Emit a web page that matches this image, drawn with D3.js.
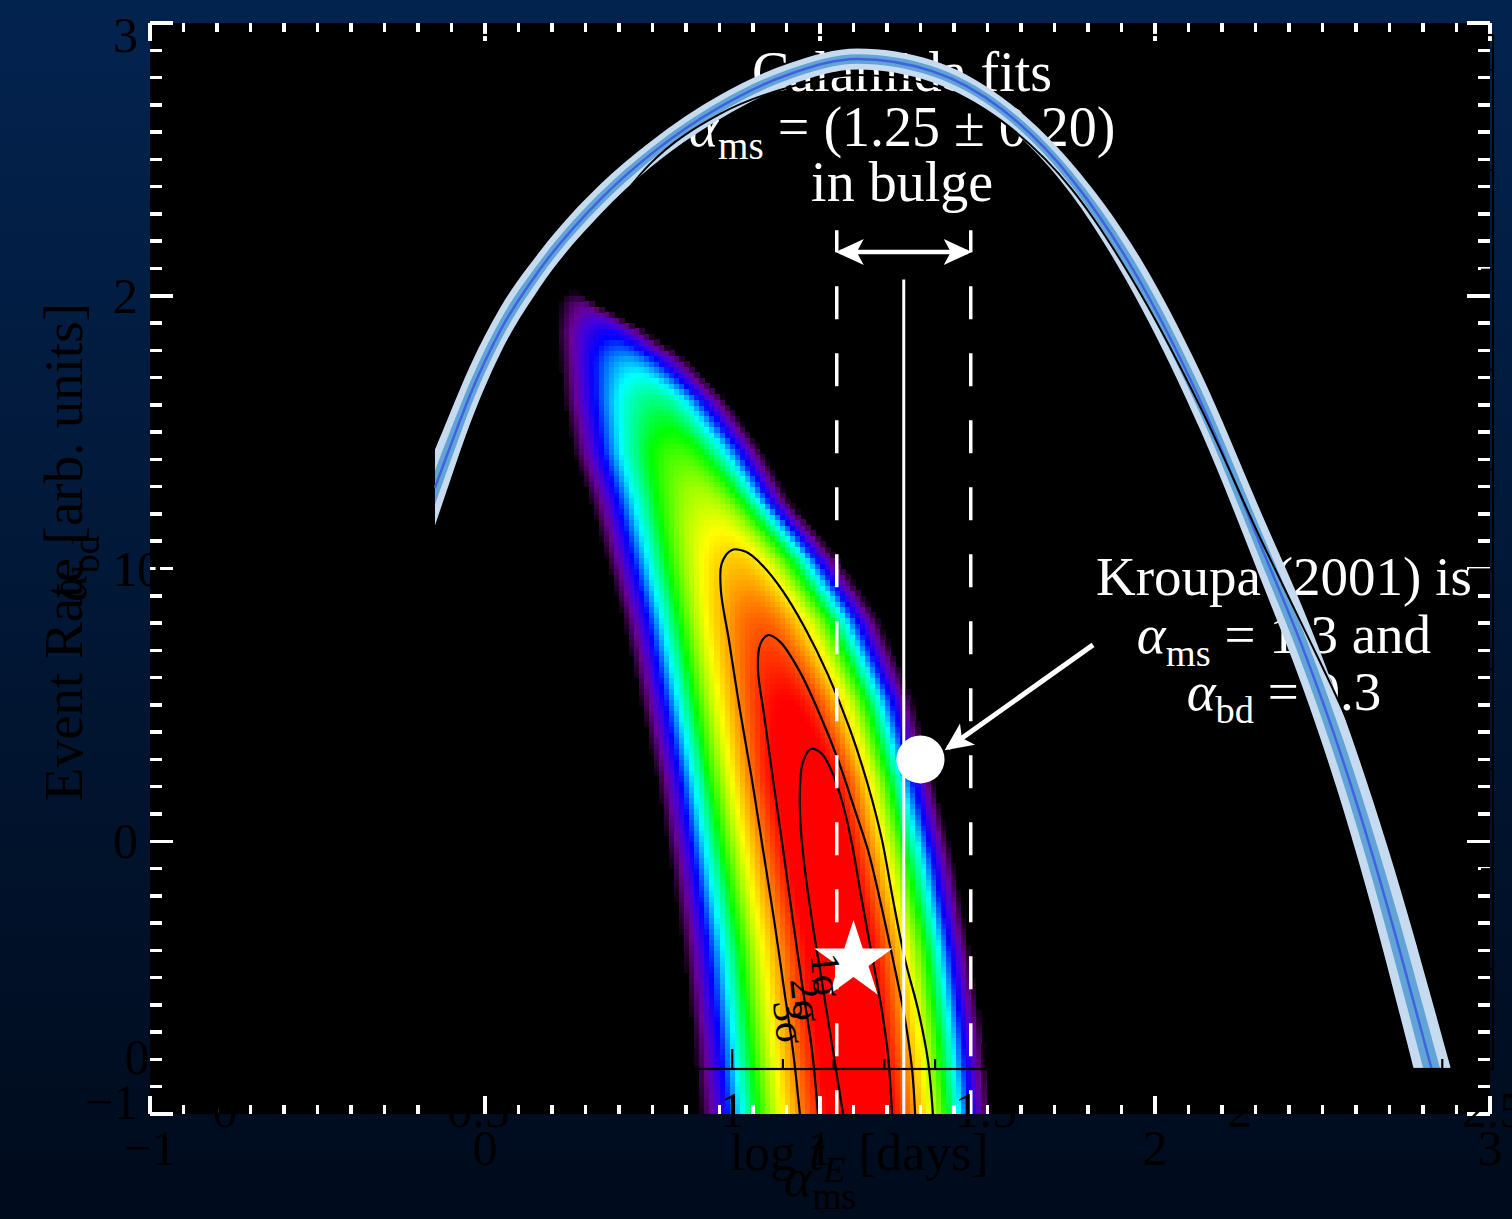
<!DOCTYPE html>
<html>
<head>
<meta charset="utf-8">
<script src="https://cdn.jsdelivr.net/npm/d3@7"></script>
<style>
  html, body { margin: 0; padding: 0; background: #011a3e; }
  svg { display: block; }
  text { font-family: "Liberation Serif", "DejaVu Serif", serif; }
</style>
</head>
<body>
<svg id="chart" width="1512" height="1219"></svg>
<script>
// ---------- data ----------
// outer panel: alpha_ms (x) vs alpha_bd (y)
const msTicks = [-1, 0, 1, 2, 3];
const bdTicks = [-1, 0, 1, 2, 3];

// likelihood map, read row by row: left edge, peak and right edge in alpha_ms, peak level 0..1
const rowBd    = [2.02, 1.97, 1.87, 1.76, 1.62, 1.43, 1.25, 1.03, 0.81, 0.52, 0.23, -0.07, -0.40, -0.73, -1.00];
const rowLeft  = [0.23, 0.22, 0.21, 0.22, 0.23, 0.26, 0.31, 0.36, 0.41, 0.46, 0.51, 0.55, 0.59, 0.62, 0.64];
const rowPeak  = [0.26, 0.29, 0.37, 0.43, 0.51, 0.58, 0.66, 0.75, 0.82, 0.90, 0.96, 1.01, 1.07, 1.10, 1.13];
const rowRight = [0.27, 0.33, 0.48, 0.61, 0.72, 0.83, 0.91, 1.06, 1.18, 1.28, 1.34, 1.40, 1.45, 1.49, 1.51];
const rowLevel = [0.00, 0.12, 0.28, 0.40, 0.52, 0.62, 0.70, 0.80, 0.88, 0.95, 1.00, 1.00, 1.00, 1.00, 1.00];

// confidence contours [alpha_ms, alpha_bd]
const sigma1 = [[1.069,-1],[1.048,-0.839],[1.024,-0.655],[1.0,-0.472],[0.976,-0.289],[0.955,-0.105],
  [0.943,0.041],[0.940,0.188],[0.949,0.291],[0.973,0.338],[1.003,0.324],[1.036,0.254],[1.069,0.133],
  [1.096,-0.014],[1.122,-0.197],[1.152,-0.399],[1.182,-0.600],[1.203,-0.784],[1.215,-1]];
const sigma2 = [[0.994,-1],[0.976,-0.765],[0.949,-0.545],[0.919,-0.289],[0.890,-0.032],[0.860,0.225],
  [0.833,0.463],[0.815,0.628],[0.821,0.720],[0.845,0.756],[0.881,0.731],[0.940,0.621],[1.0,0.463],
  [1.054,0.298],[1.104,0.115],[1.143,-0.032],[1.179,-0.215],[1.218,-0.435],[1.254,-0.655],[1.275,-0.839],[1.284,-1]];
const sigma3 = [[0.940,-1],[0.919,-0.765],[0.893,-0.545],[0.863,-0.289],[0.830,-0.032],[0.797,0.225],
  [0.761,0.481],[0.728,0.738],[0.704,0.921],[0.707,1.020],[0.737,1.068],[0.779,1.061],[0.827,1.013],
  [0.887,0.921],[0.955,0.782],[1.024,0.610],[1.090,0.408],[1.143,0.206],[1.185,0.005],[1.218,-0.215],
  [1.254,-0.435],[1.293,-0.619],[1.322,-0.802],[1.337,-1]];
const contourLabels = [["1σ", 1.021, -0.49], ["2σ", 0.961, -0.582], ["3σ", 0.910, -0.663]];

const bestFit = [1.10, -0.44];      // star
const kroupa = [1.3, 0.3];          // circle
const calamidaMs = [1.05, 1.25, 1.45];

// inner panel: event rate vs log tE
const logTE = [0.414, 0.444, 0.483, 0.542, 0.621, 0.740, 0.838, 0.976, 1.114, 1.247, 1.393,
  1.531, 1.669, 1.807, 1.923, 2.047, 2.126, 2.205, 2.264, 2.318, 2.379, 2.416];
const rate  = [11.64, 12.46, 13.49, 14.77, 16.01, 17.41, 18.30, 19.26, 19.92, 20.22, 19.98,
  19.22, 17.82, 15.71, 13.37, 10.36, 8.40, 6.15, 4.23, 2.30, 0.00, -1.40];
const err2  = [0.76, 0.68, 0.58, 0.46, 0.36, 0.30, 0.26, 0.24, 0.22, 0.21, 0.22,
  0.24, 0.32, 0.48, 0.58, 0.68, 0.80, 0.96, 1.12, 1.28, 1.40, 1.44];
const err1  = [0.34, 0.31, 0.26, 0.21, 0.16, 0.135, 0.12, 0.11, 0.10, 0.095, 0.10,
  0.11, 0.145, 0.22, 0.26, 0.31, 0.36, 0.43, 0.50, 0.58, 0.63, 0.65];
const altLogTE = [0.740, 0.838, 0.976, 1.114, 1.247, 1.393, 1.531, 1.669, 1.807, 1.923, 2.047, 2.126, 2.205, 2.278, 2.357];
const altRate  = [16.90, 18.12, 19.12, 19.66, 19.90, 19.70, 18.98, 17.62, 15.49, 13.25, 10.50, 8.84, 7.15, 5.39, 3.39];
const teTicks = [0, 0.5, 1, 1.5, 2, 2.5];
const rateTicks = [0, 10];

// ---------- setup ----------
const W = 1512, H = 1219;
const svg = d3.select("#chart");
const defs = svg.append("defs");

const xOut = d3.scaleLinear().domain([-1, 3]).range([150, 1490]);
const yOut = d3.scaleLinear().domain([-1, 3]).range([1114, 23]);
const xIn = d3.scaleLinear().domain([0, 2.5]).range([225, 1493]);
const yIn = d3.scaleLinear().domain([0, 20.7]).range([1069, 35]);

const bg = defs.append("linearGradient").attr("id", "bg")
  .attr("x1", 0).attr("y1", 0).attr("x2", 0).attr("y2", 1);
bg.append("stop").attr("offset", 0).attr("stop-color", "#03234f");
bg.append("stop").attr("offset", 1).attr("stop-color", "#000b1c");
svg.append("rect").attr("width", W).attr("height", H).attr("fill", "url(#bg)");

defs.append("clipPath").attr("id", "clipOut").append("rect")
  .attr("x", xOut(-1)).attr("y", yOut(3))
  .attr("width", xOut(3) - xOut(-1)).attr("height", yOut(-1) - yOut(3));
defs.append("clipPath").attr("id", "clipIn").append("rect")
  .attr("x", xIn(0)).attr("y", yIn(20.7))
  .attr("width", xIn(2.5) - xIn(0)).attr("height", yIn(0) - yIn(20.7));

const head = defs.append("marker").attr("id", "head")
  .attr("viewBox", "-28 -15 34 30").attr("refX", 0).attr("refY", 0)
  .attr("markerWidth", 34).attr("markerHeight", 30)
  .attr("markerUnits", "userSpaceOnUse").attr("orient", "auto-start-reverse");
head.append("path").attr("d", "M4,0L-24,-13L-17,0L-24,13Z").attr("fill", "#fff");

// ---------- outer panel ----------
svg.append("rect")
  .attr("x", xOut(-1)).attr("y", yOut(3))
  .attr("width", xOut(3) - xOut(-1)).attr("height", yOut(-1) - yOut(3))
  .attr("fill", "#000");

// likelihood map
const leftAt = d3.scaleLinear().domain(rowBd).range(rowLeft).clamp(true);
const peakAt = d3.scaleLinear().domain(rowBd).range(rowPeak).clamp(true);
const rightAt = d3.scaleLinear().domain(rowBd).range(rowRight).clamp(true);
const levelAt = d3.scaleLinear().domain(rowBd).range(rowLevel).clamp(true);
const rainbow = d3.scaleLinear()
  .domain([0, 0.06, 0.14, 0.22, 0.30, 0.38, 0.44, 0.52, 0.58, 0.68, 0.75, 0.82, 0.88, 0.95])
  .range(["#000000", "#30003c", "#6a0096", "#4400dc", "#0000ff", "#0090ff", "#00ffff", "#00ff80",
          "#00ff00", "#a0ff00", "#ffff00", "#ffb000", "#ff6000", "#ff0000"])
  .clamp(true);

const dMs = 0.015, dBd = 0.02;
const cells = [];
for (let j = 0; j < 155; j++) {
  const b = -1 + (j + 0.5) * dBd;
  if (b > rowBd[0]) break;
  const L = leftAt(b), P = peakAt(b), R = rightAt(b), lv = levelAt(b);
  for (let i = 0; i < 100; i++) {
    const m = 0.1 + (i + 0.5) * dMs;
    const t = m < P ? (P - m) / (P - L) : (m - P) / (R - P);
    if (t >= 1) continue;
    const v = lv * (1 - t * t);
    if (v < 0.02) continue;
    cells.push({ m, b, v });
  }
}
const cw = xOut(dMs) - xOut(0), ch = yOut(0) - yOut(dBd);
svg.append("g").attr("clip-path", "url(#clipOut)").attr("shape-rendering", "crispEdges")
  .selectAll("rect").data(cells).join("rect")
  .attr("x", d => xOut(d.m - dMs / 2)).attr("y", d => yOut(d.b + dBd / 2))
  .attr("width", cw + 0.7).attr("height", ch + 0.7)
  .attr("fill", d => rainbow(d.v));

// contours
const cLine = d3.line().x(d => xOut(d[0])).y(d => yOut(d[1])).curve(d3.curveCatmullRom.alpha(0.5));
svg.append("g").attr("clip-path", "url(#clipOut)")
  .selectAll("path").data([sigma1, sigma2, sigma3]).join("path")
  .attr("d", cLine).attr("fill", "none").attr("stroke", "#000").attr("stroke-width", 2.2);

// calamida range: solid centre, dashed bounds, double arrow
svg.append("line")
  .attr("x1", xOut(calamidaMs[1])).attr("x2", xOut(calamidaMs[1]))
  .attr("y1", yOut(2.06)).attr("y2", yOut(-1))
  .attr("stroke", "#fff").attr("stroke-width", 3);
svg.selectAll("line.dash").data([calamidaMs[0], calamidaMs[2]]).join("line").attr("class", "dash")
  .attr("x1", d => xOut(d)).attr("x2", d => xOut(d))
  .attr("y1", yOut(2.24)).attr("y2", yOut(-1))
  .attr("stroke", "#fff").attr("stroke-width", 3.5)
  .attr("stroke-dasharray", "33 34").attr("stroke-dashoffset", 11);
svg.append("line")
  .attr("x1", xOut(calamidaMs[0]) + 3).attr("x2", xOut(calamidaMs[2]) - 3)
  .attr("y1", yOut(2.16)).attr("y2", yOut(2.16))
  .attr("stroke", "#fff").attr("stroke-width", 4.5)
  .attr("marker-start", "url(#head)").attr("marker-end", "url(#head)");

// star and kroupa point
svg.append("path")
  .attr("d", d3.symbol().type(d3.symbolStar).size(1900)())
  .attr("transform", `translate(${xOut(bestFit[0])},${yOut(bestFit[1])})`)
  .attr("fill", "#fff");
svg.append("circle")
  .attr("cx", xOut(kroupa[0])).attr("cy", yOut(kroupa[1])).attr("r", 24)
  .attr("fill", "#fff");
svg.append("line")
  .attr("x1", xOut(1.815)).attr("y1", yOut(0.72))
  .attr("x2", xOut(1.382)).attr("y2", yOut(0.342))
  .attr("stroke", "#fff").attr("stroke-width", 5)
  .attr("marker-end", "url(#head)");

// contour labels
svg.append("g").selectAll("text").data(contourLabels).join("text")
  .attr("transform", d => `translate(${xOut(d[1])},${yOut(d[2])}) rotate(84)`)
  .attr("text-anchor", "middle").attr("dy", "0.35em")
  .attr("font-size", 42).attr("fill", "#000")
  .text(d => d[0]);

// outer ticks (white, inside)
const tickG = svg.append("g").attr("stroke", "#fff").attr("stroke-width", 3.5)
  .attr("shape-rendering", "crispEdges");
const msMinor = d3.range(-10, 31).map(i => ({ v: i / 10, major: i % 10 === 0 }));
const bdMinor = d3.range(-10, 31).map(i => ({ v: i / 10, major: i % 10 === 0 }));
tickG.selectAll("line.xb").data(msMinor).join("line").attr("class", "xb")
  .attr("x1", d => xOut(d.v)).attr("x2", d => xOut(d.v))
  .attr("y1", yOut(-1)).attr("y2", d => yOut(-1) - (d.major ? 18 : 9));
tickG.selectAll("line.xt").data(msMinor).join("line").attr("class", "xt")
  .attr("x1", d => xOut(d.v)).attr("x2", d => xOut(d.v))
  .attr("y1", yOut(3)).attr("y2", d => yOut(3) + (d.major ? 18 : 9));
tickG.selectAll("line.yl").data(bdMinor).join("line").attr("class", "yl")
  .attr("y1", d => yOut(d.v)).attr("y2", d => yOut(d.v))
  .attr("x1", xOut(-1)).attr("x2", d => xOut(-1) + (d.major ? 23 : 12));
tickG.selectAll("line.yr").data(bdMinor).join("line").attr("class", "yr")
  .attr("y1", d => yOut(d.v)).attr("y2", d => yOut(d.v))
  .attr("x1", xOut(3)).attr("x2", d => xOut(3) - (d.major ? 23 : 12));

// annotation text
function richText(sel, parts, fs) {
  const t = sel.append("text").attr("font-size", fs);
  let down = false;
  parts.forEach(p => {
    const s = t.append("tspan").text(p.t);
    if (p.i) s.attr("font-style", "italic");
    if (p.sub) { s.attr("font-size", fs * 0.7).attr("dy", fs * 0.24); down = true; }
    else if (down) { s.attr("dy", -fs * 0.24); down = false; }
  });
  return t;
}
const calamidaText = [
  [[{ t: "Calamida fits" }], 2.751],
  [[{ t: "α", i: true }, { t: "ms", sub: true }, { t: " = (1.25 ± 0.20)" }], 2.549],
  [[{ t: "in bulge" }], 2.347]
];
const kroupaText = [
  [[{ t: "Kroupa (2001) is" }], 0.903],
  [[{ t: "α", i: true }, { t: "ms", sub: true }, { t: " = 1.3 and" }], 0.690],
  [[{ t: "α", i: true }, { t: "bd", sub: true }, { t: " = 0.3" }], 0.481]
];
calamidaText.forEach(([parts, bd]) => {
  richText(svg, parts, 56).attr("x", xOut(1.245)).attr("y", yOut(bd))
    .attr("text-anchor", "middle").attr("fill", "#fff");
});
kroupaText.forEach(([parts, bd]) => {
  richText(svg, parts, 55).attr("x", xOut(2.385)).attr("y", yOut(bd))
    .attr("text-anchor", "middle").attr("fill", "#fff");
});

// ---------- inner panel (event rate) ----------
const band = logTE.map((x, i) => ({ x, y: rate[i], e1: err1[i], e2: err2[i] }));
const gIn = svg.append("g").attr("clip-path", "url(#clipIn)");
gIn.append("path").datum(band)
  .attr("d", d3.area().x(d => xIn(d.x)).y0(d => yIn(d.y - d.e2)).y1(d => yIn(d.y + d.e2)).curve(d3.curveMonotoneX))
  .attr("fill", "#c6dbef");
gIn.append("path").datum(band)
  .attr("d", d3.area().x(d => xIn(d.x)).y0(d => yIn(d.y - d.e1)).y1(d => yIn(d.y + d.e1)).curve(d3.curveMonotoneX))
  .attr("fill", "#62a4d6");
gIn.append("path").datum(band)
  .attr("d", d3.line().x(d => xIn(d.x)).y(d => yIn(d.y)).curve(d3.curveMonotoneX))
  .attr("fill", "none").attr("stroke", "#3f63e0").attr("stroke-width", 2.5);
gIn.append("path").datum(altLogTE.map((x, i) => [x, altRate[i]]))
  .attr("d", d3.line().x(d => xIn(d[0])).y(d => yIn(d[1])).curve(d3.curveMonotoneX))
  .attr("fill", "none").attr("stroke", "#000").attr("stroke-width", 2);

// inner axes (black)
const axIn = svg.append("g").attr("stroke", "#000").attr("stroke-width", 2.2);
axIn.append("rect")
  .attr("x", xIn(0)).attr("y", yIn(20.7))
  .attr("width", xIn(2.5) - xIn(0)).attr("height", yIn(0) - yIn(20.7))
  .attr("fill", "none");
const teMinor = d3.range(0, 26).map(i => ({ v: i / 10, major: i % 5 === 0 }));
const rateMinor = d3.range(0, 11).map(i => ({ v: i * 2, major: i % 5 === 0 }));
axIn.selectAll("line.ib").data(teMinor).join("line").attr("class", "ib")
  .attr("x1", d => xIn(d.v)).attr("x2", d => xIn(d.v))
  .attr("y1", yIn(0)).attr("y2", d => yIn(0) - (d.major ? 20 : 10));
axIn.selectAll("line.ir").data(rateMinor).join("line").attr("class", "ir")
  .attr("y1", d => yIn(d.v)).attr("y2", d => yIn(d.v))
  .attr("x1", xIn(2.5)).attr("x2", d => xIn(2.5) - (d.major ? 24 : 12));

const fmt = d => String(d).replace("-", "−");
svg.append("g").selectAll("text").data(teTicks).join("text")
  .attr("x", d => xIn(d)).attr("y", yIn(0) + 58)
  .attr("text-anchor", "middle").attr("font-size", 50).attr("fill", "#000")
  .text(fmt);
svg.append("g").selectAll("text").data(rateTicks).join("text")
  .attr("x", 137)
  .attr("y", d => Math.max(yIn(20.7) + 12, Math.min(yIn(0) - 12, yIn(d))) + 17)
  .attr("text-anchor", "middle").attr("font-size", 50).attr("fill", "#000")
  .text(fmt);

// ---------- outer axis labels ----------
svg.append("g").selectAll("text").data(msTicks).join("text")
  .attr("x", d => xOut(d)).attr("y", yOut(-1) + 51)
  .attr("text-anchor", "middle").attr("font-size", 50).attr("fill", "#000")
  .text(fmt);
svg.append("g").selectAll("text").data(bdTicks).join("text")
  .attr("x", 138)
  .attr("y", d => Math.max(yOut(3) + 12, Math.min(yOut(-1) - 12, yOut(d))) + 17)
  .attr("text-anchor", "end").attr("font-size", 50).attr("fill", "#000")
  .text(fmt);

// titles
richText(svg, [{ t: "log " }, { t: "t", i: true }, { t: "E", i: true, sub: true }, { t: " [days]" }], 52)
  .attr("x", xIn(1.25)).attr("y", 1170).attr("text-anchor", "middle").attr("fill", "#000");
richText(svg, [{ t: "α", i: true }, { t: "ms", sub: true }], 54)
  .attr("x", xOut(1)).attr("y", 1196).attr("text-anchor", "middle").attr("fill", "#000");
richText(svg.append("g").attr("transform", `translate(82,${(yIn(0) + yIn(20.7)) / 2}) rotate(-90)`),
  [{ t: "Event Rate [arb. units]" }], 55)
  .attr("text-anchor", "middle").attr("fill", "#000");
richText(svg.append("g").attr("transform", `translate(86,${(yOut(-1) + yOut(3)) / 2}) rotate(-90)`),
  [{ t: "α", i: true }, { t: "bd", sub: true }], 54)
  .attr("text-anchor", "middle").attr("fill", "#000");
</script>
</body>
</html>
